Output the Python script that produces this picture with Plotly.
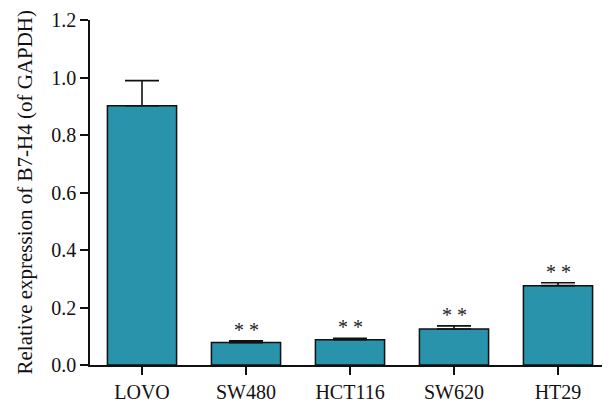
import plotly.graph_objects as go

categories = ["LOVO", "SW480", "HCT116", "SW620", "HT29"]
values = [0.902, 0.078, 0.088, 0.125, 0.276]
errors = [0.087, 0.006, 0.005, 0.011, 0.010]
significance = ["", "* *", "* *", "* *", "* *"]
y_ticks = [0.0, 0.2, 0.4, 0.6, 0.8, 1.0, 1.2]
y_title = "Relative expression of B7-H4 (of GAPDH)"

FONT = "Liberation Serif, Times New Roman, serif"
BAR_COLOR = "#2893AB"

fig = go.Figure()
fig.add_trace(go.Bar(
    x=categories, y=values, width=0.665,
    marker=dict(color=BAR_COLOR, line=dict(color="#111111", width=1.5)),
    error_y=dict(type="data", symmetric=False, array=errors,
                 arrayminus=[0] * len(errors), color="#111111",
                 thickness=1.6, width=17),
    showlegend=False,
))

for c, v, e, s in zip(categories, values, errors, significance):
    if s:
        fig.add_annotation(x=c, y=v + e, text=s, showarrow=False,
                           yanchor="bottom", yshift=-2,
                           font=dict(family=FONT, size=20, color="#222222"))

fig.add_annotation(xref="paper", yref="paper", x=0, y=0.5, xanchor="center",
                   yanchor="middle", xshift=-66, text=y_title, textangle=-90,
                   showarrow=False,
                   font=dict(family=FONT, size=21, color="#111111"))

fig.update_layout(
    width=602, height=396,
    margin=dict(l=82, r=0, t=12, b=39),
    plot_bgcolor="white", paper_bgcolor="white",
    font=dict(family=FONT, color="#111111"),
)
fig.update_xaxes(
    range=[-0.5, 4.5], showline=True, linecolor="#111111", linewidth=1.5,
    ticks="outside", ticklen=8, tickwidth=1.5, tickcolor="#111111",
    tickfont=dict(family=FONT, size=20, color="#111111"), showgrid=False,
)
fig.update_yaxes(
    range=[0, 1.2], tickvals=y_ticks, ticktext=[f"{t:.1f}" for t in y_ticks],
    showline=True, linecolor="#111111", linewidth=1.5,
    ticks="outside", ticklen=8, tickwidth=1.5, tickcolor="#111111",
    tickfont=dict(family=FONT, size=20, color="#111111"), showgrid=False,
    zeroline=False,
)

fig.write_html("out.html")
